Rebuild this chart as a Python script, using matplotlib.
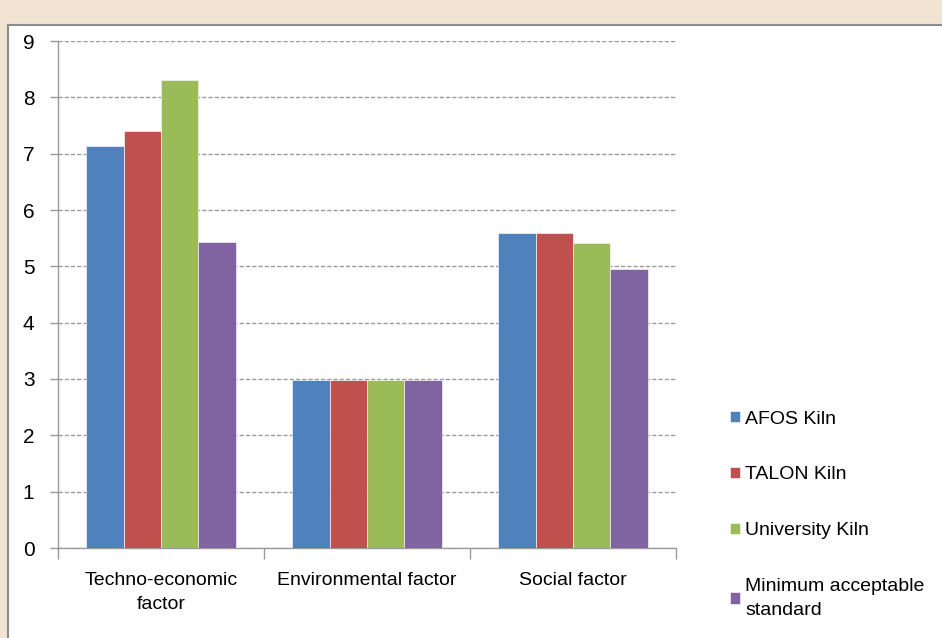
import numpy as np
import matplotlib
matplotlib.use('Agg')
import matplotlib.pyplot as plt
from matplotlib.patches import Rectangle

# -----------------------------------------------------------------------------
# data
# -----------------------------------------------------------------------------
categories = ["Techno-economic\nfactor", "Environmental factor", "Social factor"]
series_names = ["AFOS Kiln", "TALON Kiln", "University Kiln",
                "Minimum acceptable\nstandard"]
afos = [7.13, 2.98, 5.60]
talon = [7.41, 2.98, 5.60]
university = [8.31, 2.98, 5.42]
minimum = [5.43, 2.98, 4.95]
y_ticks = list(range(0, 10))

colors = ["#4F81BD", "#C0504D", "#9BBB59", "#8064A2"]

plt.rcParams['font.family'] = ['Liberation Sans', 'DejaVu Sans']

fig = plt.figure(figsize=(9.42, 6.38), dpi=100)
fig.patch.set_facecolor('#f1e4d2')

# white chart area with grey frame
W, H = 942, 638
frame = Rectangle((8 / W, -0.01), 1, 1.01 - 25 / H, transform=fig.transFigure,
                  facecolor='white', edgecolor='#8c8c8c', linewidth=1.5, zorder=-1)
fig.patches.append(frame)

ax = fig.add_axes([58 / W, 1 - 548 / H, (676 - 58) / W, (548 - 41) / H])
ax.set_facecolor('none')
ax.set_zorder(2)

x = np.arange(len(categories))
width = 0.182
all_series = [afos, talon, university, minimum]
for i, (vals, name) in enumerate(zip(all_series, series_names)):
    ax.bar(x + (i - 1.5) * width, vals, width, color=colors[i], label=name,
           edgecolor='#f4f4f4', linewidth=0.5, zorder=3)

ax.set_xlim(-0.5, 2.5)
ax.set_ylim(0, 9)
ax.set_yticks(y_ticks)
ax.yaxis.grid(True, linestyle=(0, (3, 1.5)), color='#9a9a9a', linewidth=1, zorder=0)
ax.set_axisbelow(True)

ax.set_xticks(x)
ax.set_xticklabels(categories, fontsize=14, linespacing=1.55)
ax.set_xticks([-0.5, 0.5, 1.5, 2.5], minor=True)
ax.tick_params(axis='x', which='major', length=0, pad=17)
ax.tick_params(axis='x', which='minor', length=8, color='#9a9a9a', width=1)
ax.tick_params(axis='y', length=6, color='#9a9a9a', width=1, labelsize=15, pad=11)

for s in ['top', 'right']:
    ax.spines[s].set_visible(False)
for s in ['left', 'bottom']:
    ax.spines[s].set_color('#9a9a9a')
    ax.spines[s].set_linewidth(1)

leg = fig.legend(loc='upper left', bbox_to_anchor=(712 / W, 1 - 393 / H), frameon=False,
                 fontsize=14, handlelength=0.55, handleheight=0.55, handletextpad=0.25,
                 labelspacing=2.0)
for t in leg.get_texts():
    t.set_linespacing(1.5)

fig.savefig('out.png', dpi=100, facecolor=fig.get_facecolor())
